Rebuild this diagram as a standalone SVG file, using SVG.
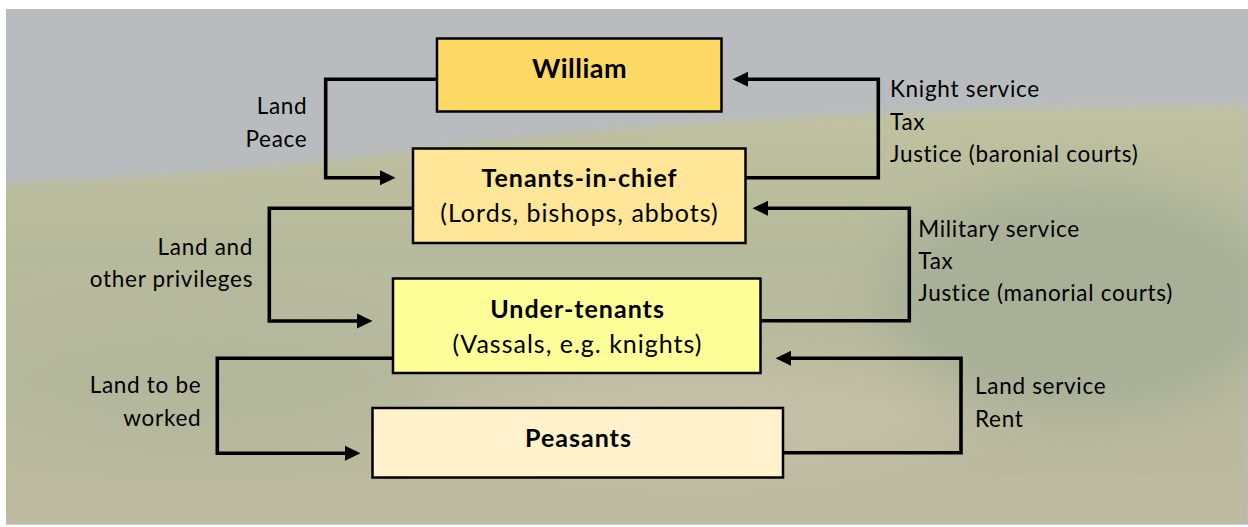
<svg xmlns="http://www.w3.org/2000/svg" width="1248" height="527" viewBox="0 0 1248 527">
<style>
.node rect{stroke:#000;stroke-width:2.5}
.nt{font-family:Lato,"Liberation Sans",sans-serif;fill:#000;text-anchor:middle;font-size:25px;letter-spacing:1px}
.b{font-weight:bold}
.lbl{font-family:Lato,"Liberation Sans",sans-serif;font-size:22.5px;letter-spacing:0.7px;fill:#000}
.r{text-anchor:end}
.conn path{fill:none;stroke:#000;stroke-width:3.6;stroke-linejoin:miter}
</style>
<defs>
<marker id="ah" markerUnits="userSpaceOnUse" markerWidth="16" markerHeight="16" viewBox="0 -8 16 16" refX="0" refY="0" orient="auto">
<path d="M0,-7.5 L15.5,0 L0,7.5 z" fill="#000"/>
</marker>
<linearGradient id="hill" x1="0" y1="0" x2="0" y2="1">
<stop offset="0" stop-color="#C0C2A0"/>
<stop offset="0.35" stop-color="#B6BA9C"/>
<stop offset="1" stop-color="#BDBAA0"/>
</linearGradient>
<filter id="bl" x="-30%" y="-30%" width="160%" height="160%"><feGaussianBlur stdDeviation="25"/></filter>
<filter id="bl2" x="-10%" y="-50%" width="120%" height="200%"><feGaussianBlur stdDeviation="4"/></filter>
<clipPath id="bgclip"><rect x="6" y="9" width="1242" height="516"/></clipPath>
</defs>
<rect width="1248" height="527" fill="#fff"/>
<g id="background" clip-path="url(#bgclip)">
<rect x="6" y="9" width="1242" height="516" fill="#B9BCBF"/>
<path d="M0,183 C150,178 260,170 420,150 C620,125 850,108 1248,106 L1248,525 L0,525 z" fill="url(#hill)" filter="url(#bl2)"/>
<ellipse cx="1080" cy="300" rx="200" ry="120" fill="#A9B098" filter="url(#bl)"/>
<ellipse cx="200" cy="380" rx="220" ry="70" fill="#B3B79C" filter="url(#bl)"/>
<ellipse cx="700" cy="420" rx="260" ry="60" fill="#C3BFA6" filter="url(#bl)"/>
<rect x="6" y="524" width="1242" height="3" fill="#CFCFCF"/>
</g>
<g id="connectors" class="conn">
<path d="M437,79.3 H325.7 V177.7 H380" marker-end="url(#ah)"/>
<path d="M746,177.7 H878.3 V79.3 H748" marker-end="url(#ah)"/>
<path d="M413,208.3 H269.3 V321 H357" marker-end="url(#ah)"/>
<path d="M761,320.7 H909.3 V208.3 H768" marker-end="url(#ah)"/>
<path d="M393,358.3 H217.3 V453.3 H345" marker-end="url(#ah)"/>
<path d="M783.5,452.7 H961 V358.3 H791" marker-end="url(#ah)"/>
</g>
<g id="william" class="node">
<rect x="437" y="38.5" width="284.5" height="73" fill="#FFD966"/>
<text class="nt b" x="579.5" y="78.3" style="font-size:27px;letter-spacing:0.5px">William</text>
</g>
<g id="tenants-in-chief" class="node">
<rect x="413" y="148.5" width="332.5" height="94.5" fill="#FFE699"/>
<text class="nt b" x="579.5" y="186.7">Tenants-in-chief</text>
<text class="nt" x="579.5" y="221.7">(Lords, bishops, abbots)</text>
</g>
<g id="under-tenants" class="node">
<rect x="393" y="278.5" width="367.5" height="94.5" fill="#FFFF99"/>
<text class="nt b" x="577.5" y="318.3">Under-tenants</text>
<text class="nt" x="577.5" y="353.3">(Vassals, e.g. knights)</text>
</g>
<g id="peasants" class="node">
<rect x="372.5" y="408" width="410.5" height="69.5" fill="#FFF2CC"/>
<text class="nt b" x="578.5" y="446.7">Peasants</text>
</g>
<g id="labels">
<text class="lbl r" x="307.4" y="114">Land</text>
<text class="lbl r" x="307.4" y="147.3">Peace</text>
<text class="lbl" x="890" y="97.3">Knight service</text>
<text class="lbl" x="890" y="130">Tax</text>
<text class="lbl" x="890" y="161.7">Justice (baronial courts)</text>
<text class="lbl r" x="253.1" y="255">Land and</text>
<text class="lbl r" x="253.1" y="286.5">other privileges</text>
<text class="lbl" x="918.3" y="236.7">Military service</text>
<text class="lbl" x="918.3" y="269.3">Tax</text>
<text class="lbl" x="918.3" y="301">Justice (manorial courts)</text>
<text class="lbl r" x="201.3" y="393">Land to be</text>
<text class="lbl r" x="201.3" y="426">worked</text>
<text class="lbl" x="975" y="394">Land service</text>
<text class="lbl" x="975" y="426.7">Rent</text>
</g>
</svg>
